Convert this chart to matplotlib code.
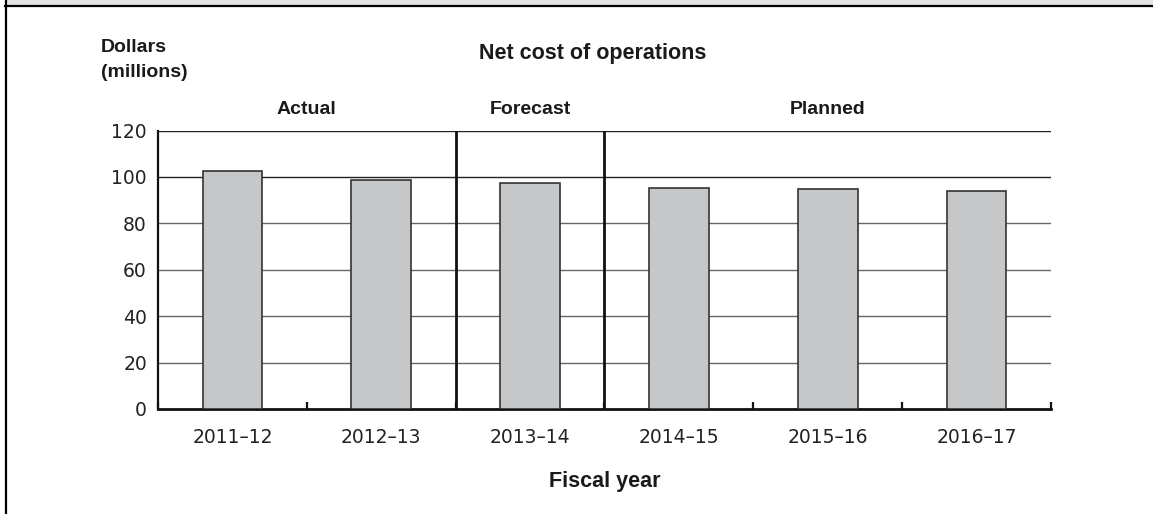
import matplotlib
matplotlib.use("Agg")
import matplotlib.pyplot as plt
from matplotlib.patches import Rectangle
from matplotlib.lines import Line2D

# Data
years = ["2011–12", "2012–13", "2013–14", "2014–15", "2015–16", "2016–17"]
net_cost = [102.4, 98.7, 97.5, 95.1, 95.0, 94.1]
y_ticks = [0, 20, 40, 60, 80, 100, 120]
groups = ["Actual", "Forecast", "Planned"]
group_centers = [0.5, 2.0, 4.0]
dividers = [1.5, 2.5]

W, H = 1153, 514
fig = plt.figure(figsize=(W / 100, H / 100), dpi=100)

ax = fig.add_axes([158 / W, 1 - 409 / H, (1051 - 158) / W, (409 - 130.6) / H])

x = list(range(len(years)))
ax.bar(x, net_cost, width=0.4, color="#c6c7c9", edgecolor="#333333",
       linewidth=1.2, zorder=3)

ax.set_xlim(-0.5, len(years) - 0.5)
ax.set_ylim(0, 120)

# gridlines
for v in y_ticks[1:]:
    col = "#222222" if v >= 100 else "#666666"
    ax.axhline(v, color=col, linewidth=1.0, zorder=1)

for d in dividers:
    ax.axvline(d, color="#111111", linewidth=2.0, zorder=4)

for s in ["top", "right"]:
    ax.spines[s].set_visible(False)
ax.spines["left"].set_linewidth(1.6)
ax.spines["bottom"].set_linewidth(2.0)
ax.spines["left"].set_color("#111111")
ax.spines["bottom"].set_color("#111111")

tick_font = dict(family="DejaVu Sans", size=13.5, color="#222222")
ax.set_yticks(y_ticks)
ax.set_yticklabels([str(v) for v in y_ticks], **tick_font)
ax.tick_params(axis="y", length=0, pad=8)

ax.set_xticks(x)
ax.set_xticklabels(years, **tick_font)
ax.tick_params(axis="x", which="major", length=0, pad=14)
ax.set_xticks([i + 0.5 for i in range(-1, len(years))], minor=True)
ax.tick_params(axis="x", which="minor", direction="in", length=5, width=1.6,
               color="#111111")

bold = dict(family="Liberation Sans", weight="bold", size=14, color="#1a1a1a")

for g, c in zip(groups, group_centers):
    ax.text(c, 1.0 + 21 / (409 - 130.6), g, transform=ax.get_xaxis_transform(),
            ha="center", va="center", **bold)

fig.text(593 / W, 1 - 53 / H, "Net cost of operations", ha="center",
         va="center", **dict(bold, size=15.5))
fig.text(101 / W, 1 - 47 / H, "Dollars", ha="left", va="center", **bold)
fig.text(101 / W, 1 - 73 / H, "(millions)", ha="left", va="center", **bold)
fig.text(604.5 / W, 1 - 482 / H, "Fiscal year", ha="center", va="center",
         **dict(bold, size=15.5))

# frame decorations
fig.add_artist(Rectangle((7 / W, 1 - 4.7 / H), 1, 4.7 / H,
                         transform=fig.transFigure, facecolor="#e3e3e3",
                         edgecolor="none", zorder=0))
fig.add_artist(Line2D([4.7 / W, 1], [1 - 5.7 / H, 1 - 5.7 / H],
                      transform=fig.transFigure, color="black", linewidth=1.6))
fig.add_artist(Line2D([5.7 / W, 5.7 / W], [0, 1],
                      transform=fig.transFigure, color="black", linewidth=1.6))

fig.savefig("out.png", dpi=100)
